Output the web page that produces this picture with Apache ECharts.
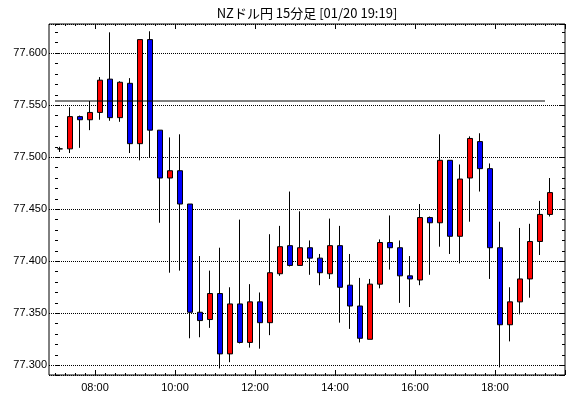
<!DOCTYPE html>
<html>
<head>
<meta charset="utf-8">
<script src="https://cdn.jsdelivr.net/npm/echarts@6/dist/echarts.min.js"></script>
<style>
html, body { margin: 0; padding: 0; background: #fff; }
#main { width: 570px; height: 398px; }
</style>
</head>
<body>
<div id="main"></div>
<script>
// 15分足の枠 (最後の 19:30 は空き)
var times = ['07:00', '07:15', '07:30', '07:45', '08:00', '08:15', '08:30', '08:45',
  '09:00', '09:15', '09:30', '09:45', '10:00', '10:15', '10:30', '10:45',
  '11:00', '11:15', '11:30', '11:45', '12:00', '12:15', '12:30', '12:45',
  '13:00', '13:15', '13:30', '13:45', '14:00', '14:15', '14:30', '14:45',
  '15:00', '15:15', '15:30', '15:45', '16:00', '16:15', '16:30', '16:45',
  '17:00', '17:15', '17:30', '17:45', '18:00', '18:15', '18:30', '18:45',
  '19:00', '19:15', '19:30'];

var opens = [77.508, 77.508, 77.539, 77.536, 77.543, 77.575, 77.538, 77.571, 77.513, 77.613,
  77.526, 77.480, 77.487, 77.455, 77.351, 77.344, 77.369, 77.311, 77.359, 77.322,
  77.361, 77.341, 77.388, 77.415, 77.396, 77.413, 77.403, 77.388, 77.415, 77.377,
  77.357, 77.325, 77.378, 77.418, 77.413, 77.386, 77.382, 77.442, 77.437, 77.497,
  77.424, 77.480, 77.515, 77.489, 77.413, 77.339, 77.361, 77.383, 77.419, 77.445];
var closes = [77.508, 77.539, 77.536, 77.543, 77.574, 77.538, 77.572, 77.513, 77.613, 77.526,
  77.480, 77.487, 77.455, 77.351, 77.343, 77.369, 77.311, 77.359, 77.322, 77.361,
  77.341, 77.389, 77.414, 77.396, 77.413, 77.403, 77.389, 77.415, 77.375, 77.357,
  77.326, 77.378, 77.418, 77.413, 77.386, 77.383, 77.442, 77.437, 77.497, 77.424,
  77.479, 77.518, 77.489, 77.413, 77.339, 77.361, 77.383, 77.419, 77.445, 77.466];
var lows = [77.505, 77.504, 77.509, 77.526, 77.536, 77.535, 77.534, 77.504, 77.497, 77.500,
  77.437, 77.389, 77.391, 77.326, 77.327, 77.336, 77.297, 77.303, 77.321, 77.317,
  77.316, 77.329, 77.386, 77.395, 77.396, 77.387, 77.377, 77.383, 77.341, 77.335,
  77.322, 77.325, 77.374, 77.392, 77.360, 77.356, 77.377, 77.387, 77.414, 77.407,
  77.398, 77.438, 77.467, 77.383, 77.298, 77.323, 77.349, 77.365, 77.406, 77.443];
var highs = [77.510, 77.548, 77.540, 77.554, 77.577, 77.620, 77.573, 77.576, 77.613, 77.621,
  77.526, 77.519, 77.522, 77.455, 77.405, 77.391, 77.413, 77.375, 77.440, 77.378,
  77.370, 77.426, 77.434, 77.467, 77.448, 77.420, 77.407, 77.441, 77.434, 77.407,
  77.384, 77.383, 77.421, 77.444, 77.420, 77.405, 77.455, 77.443, 77.522, 77.497,
  77.493, 77.520, 77.523, 77.494, 77.438, 77.375, 77.432, 77.436, 77.458, 77.480];

// 横線 (基準値)
var refPrice = 77.554;
var refFrom = '07:00';
var refTo = '19:15';

var xLabels = ['08:00', '10:00', '12:00', '14:00', '16:00', '18:00'];
var yMin = 77.2907;
var yMax = 77.628;
var titleText = 'NZドル円 15分足 [01/20 19:19]';

var ohlc = opens.map(function (o, i) {
  return [o, closes[i], lows[i], highs[i]];
});

var isMajor = function (index, value) {
  return xLabels.indexOf(value) >= 0;
};

var font = 'Liberation Sans';

var chart = echarts.init(document.getElementById('main'));

var option = {
  animation: false,
  backgroundColor: '#fff',
  graphic: [{
    type: 'text',
    x: 307,
    y: 13,
    style: {
      text: titleText,
      align: 'center',
      verticalAlign: 'middle',
      fill: '#000',
      font: '13px "Noto Sans CJK JP"'
    }
  }],
  grid: [
    { left: 49, right: 5, top: 24, bottom: 23, show: true, borderColor: '#000', borderWidth: 1 },
    { left: 55, right: 5, top: 24, bottom: 23 }
  ],
  xAxis: [
    { gridIndex: 0, type: 'value', min: -0.6, max: 51, show: false },
    {
      gridIndex: 1, type: 'category', data: times, position: 'bottom',
      axisLine: { show: false, onZero: false },
      axisTick: { show: true, inside: true, interval: 0, length: 2, lineStyle: { color: '#000' } },
      axisLabel: {
        interval: isMajor, color: '#000', fontFamily: font, fontSize: 11,
        margin: 7, padding: [0, 10, 0, 0]
      },
      splitLine: { show: false }
    },
    {
      gridIndex: 1, type: 'category', data: times, position: 'bottom',
      axisLine: { show: false, onZero: false },
      axisTick: { show: true, inside: true, interval: isMajor, length: 5, lineStyle: { color: '#000' } },
      axisLabel: { show: false }, splitLine: { show: false }
    },
    {
      gridIndex: 1, type: 'category', data: times, position: 'top',
      axisLine: { show: false, onZero: false },
      axisTick: { show: true, inside: true, interval: 0, length: 2, lineStyle: { color: '#000' } },
      axisLabel: { show: false }, splitLine: { show: false }
    },
    {
      gridIndex: 1, type: 'category', data: times, position: 'top',
      axisLine: { show: false, onZero: false },
      axisTick: { show: true, inside: true, interval: isMajor, length: 5, lineStyle: { color: '#000' } },
      axisLabel: { show: false }, splitLine: { show: false }
    }
  ],
  yAxis: [
    {
      gridIndex: 0, type: 'value', min: yMin, max: yMax, splitNumber: 6, position: 'left',
      axisLine: { show: false },
      axisTick: { show: true, inside: true, length: 5, lineStyle: { color: '#000' } },
      minorTick: { show: true, splitNumber: 5, length: 3, lineStyle: { color: '#000' } },
      splitLine: { show: true, lineStyle: { color: '#000', type: 'dotted', width: 1 } },
      axisLabel: {
        color: '#000', fontFamily: font, fontSize: 11, margin: 2,
        showMinLabel: false, showMaxLabel: false,
        formatter: function (v) { return v.toFixed(3); }
      }
    },
    {
      gridIndex: 0, type: 'value', min: yMin, max: yMax, splitNumber: 6, position: 'right',
      axisLine: { show: false },
      axisTick: { show: true, inside: true, length: 5, lineStyle: { color: '#000' } },
      minorTick: { show: true, splitNumber: 5, length: 3, lineStyle: { color: '#000' } },
      splitLine: { show: false },
      axisLabel: { show: false }
    },
    { gridIndex: 1, type: 'value', min: yMin, max: yMax, show: false }
  ],
  series: [
    {
      type: 'candlestick',
      xAxisIndex: 1,
      yAxisIndex: 2,
      data: ohlc,
      barWidth: 6,
      itemStyle: {
        color: '#ff0000',
        color0: '#0000ff',
        borderColor: '#000',
        borderColor0: '#000',
        borderColorDoji: '#000',
        borderWidth: 1
      }
    },
    {
      type: 'line',
      xAxisIndex: 0,
      yAxisIndex: 0,
      z: 5,
      symbol: 'none',
      lineStyle: { color: '#000', width: 1 },
      data: [[times.indexOf(refFrom), refPrice], [times.indexOf(refTo), refPrice]]
    }
  ]
};

chart.setOption(option);
</script>
</body>
</html>
